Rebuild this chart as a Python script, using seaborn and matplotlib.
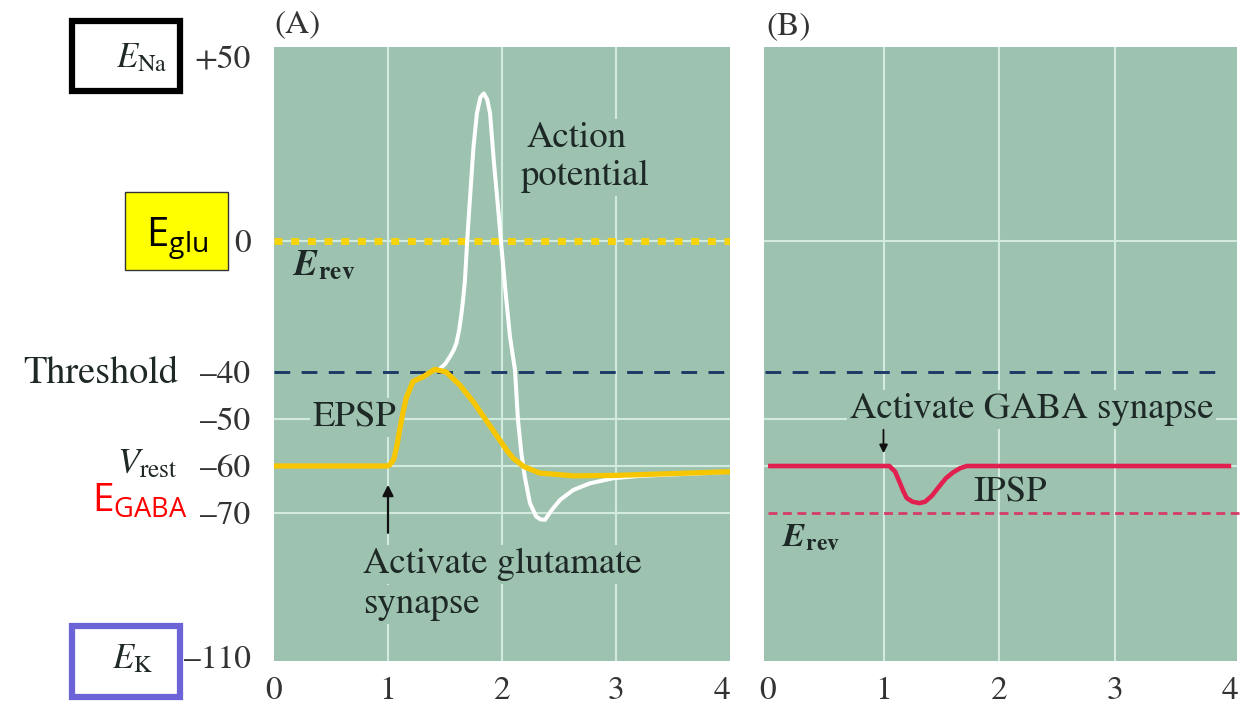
import numpy as np
import matplotlib
matplotlib.use("Agg")
import matplotlib.pyplot as plt
import seaborn as sns
from matplotlib.patches import Rectangle
from matplotlib.transforms import blended_transform_factory
from matplotlib.ticker import NullLocator

# ---------------- data ----------------
EPSP_T = [0.0, 1.0, 1.02, 1.05, 1.08, 1.1, 1.13, 1.16, 1.22, 1.31, 1.41, 1.51, 1.63,
          1.75, 1.87, 1.98, 2.04, 2.1, 2.19, 2.33, 2.63, 3.0, 3.65, 4.0]
EPSP_V = [-60, -60, -59.6, -58.6, -55.5, -52.6, -48.8, -45.5, -42, -41, -39.2, -40, -42.8,
          -46.4, -50.6, -54.5, -56.6, -58.4, -60.1, -61.5, -62.1, -62.0, -61.5, -61.2]

AP_T = [1.44, 1.50, 1.544, 1.575, 1.60, 1.625, 1.645, 1.66, 1.675, 1.695, 1.72, 1.75, 1.78,
        1.81, 1.84, 1.87, 1.895, 1.93, 1.97, 1.995, 2.035, 2.07, 2.114, 2.14, 2.17, 2.20,
        2.245, 2.30, 2.34, 2.377, 2.435, 2.51, 2.625, 2.77, 2.976, 3.21, 3.5, 3.8, 4.0]
AP_V = [-39.5, -37.6, -35.3, -33.4, -31.2, -27, -22, -17.5, -12, 0.3, 12, 25.6, 34.7,
        39, 40.1, 38.5, 34.7, 21.1, 7.5, -1.7, -17, -29.2, -39.4, -50.2, -57.3, -62.3,
        -67.9, -71, -71.8, -71.9, -69.4, -67.2, -65.1, -63.7, -62.6, -62.1, -61.8, -61.5, -61.2]

IPSP_T = [0.0, 1.05, 1.1, 1.14, 1.17, 1.2, 1.25, 1.31, 1.36, 1.42, 1.48, 1.54, 1.6,
          1.66, 1.72, 4.01]
IPSP_V = [-60, -60, -61.2, -63.5, -65.3, -66.8, -67.6, -67.9, -67.6, -66.3, -64.4, -62.6,
          -61.4, -60.5, -60, -60]

E_GLU_REV = 0
THRESHOLD = -40
E_GABA_REV = -70

YTICKS = [50, 0, -40, -50, -60, -70, -110]
YTICK_LABELS = ["+50", "0", "\u201340", "\u201350", "\u201360", "\u201370", "\u2013110"]
XTICKS = [0, 1, 2, 3, 4]
XTICK_LABELS = ["0", "1", "2", "3", "4"]
GRID_Y_A = [0, -50, -60, -70]
GRID_Y_B = [0, -50, -60]
GRID_X = [1, 2, 3]

# ---------------- style ----------------
BG = "#9dc3b0"
GRID = "#d3ebdf"
GOLD = "#f6c700"
GOLD_DOT = "#f7d30c"
RED = "#e2204f"
RED_DASH = "#d63c68"
NAVY = "#1b3a66"
TXT = "#1e2826"

sns.set_theme(style="white", rc={"axes.facecolor": BG, "figure.facecolor": "white"})
plt.rcParams["font.family"] = ["STIXGeneral", "DejaVu Serif"]
plt.rcParams["mathtext.fontset"] = "stix"
plt.rcParams["mathtext.rm"] = "Open Sans"
plt.rcParams["mathtext.it"] = "Open Sans:italic"
plt.rcParams["mathtext.bf"] = "Open Sans:bold"

W, H = 1253, 705
fig = plt.figure(figsize=(W / 100, H / 100), dpi=100)

def fig_rect(l, r, t, b):
    return [l / W, 1 - b / H, (r - l) / W, (b - t) / H]

axA = fig.add_axes(fig_rect(274, 730, 47, 661))
axB = fig.add_axes(fig_rect(764, 1237, 47, 661))

# schematic (piecewise) voltage axis as drawn in the figure
MV_ANCH = np.array([-300, -110, -70, -60, -50, -40, 0, 50, 300], dtype=float)
POS_ANCH = np.array([-1341, -657, -513, -466, -419, -372, -241, -57, 863], dtype=float)
fwd = lambda v: np.interp(v, MV_ANCH, POS_ANCH)
inv = lambda p: np.interp(p, POS_ANCH, MV_ANCH)
YLIM = (float(inv(-661)), float(inv(-47)))

# ---------------- panel A ----------------
sns.lineplot(x=AP_T, y=AP_V, ax=axA, color="white", lw=2.9, estimator=None, sort=False,
             zorder=3, solid_capstyle="round", solid_joinstyle="round")
sns.lineplot(x=EPSP_T, y=EPSP_V, ax=axA, color=GOLD, lw=3.8, estimator=None, sort=False,
             zorder=4, solid_capstyle="round", solid_joinstyle="round")
# ---------------- panel B ----------------
sns.lineplot(x=IPSP_T, y=IPSP_V, ax=axB, color=RED, lw=3.3, estimator=None, sort=False,
             zorder=4, solid_capstyle="butt", solid_joinstyle="round")

for ax, gy, xl in ((axA, GRID_Y_A, (0, 4)), (axB, GRID_Y_B, (-0.035, 4.06))):
    ax.set_yscale("function", functions=(fwd, inv))
    ax.set_ylim(*YLIM)
    ax.set_xlim(*xl)
    for s in ax.spines.values():
        s.set_visible(False)
    for g in gy:
        ax.axhline(g, color=GRID, lw=1.5, zorder=0.8)
    for g in GRID_X:
        ax.axvline(g, color=GRID, lw=1.5, zorder=0.8)
    ax.set_xticks(XTICKS)
    ax.set_xticklabels(XTICK_LABELS)
    ax.yaxis.set_minor_locator(NullLocator())
    ax.xaxis.set_minor_locator(NullLocator())
    ax.tick_params(axis="x", length=0, pad=11, labelsize=24, labelcolor="#333333")
    ax.set_xlabel("")
    ax.set_ylabel("")

axA.set_yticks(YTICKS)
axA.set_yticklabels(YTICK_LABELS)
axA.tick_params(axis="y", length=0, pad=17, labelsize=24, labelcolor="#333333")
axA.get_xticklabels()[-1].set_horizontalalignment("right")
axB.set_yticks(YTICKS)
axB.set_yticklabels([])
axB.tick_params(axis="y", length=0)

# reference lines
axA.axhline(E_GLU_REV, color=GOLD_DOT, lw=5.0, dashes=(1.15, 1.25), dash_capstyle="butt", zorder=2)
axA.axhline(THRESHOLD, color=NAVY, lw=2.1, dashes=(5.4, 3.9), zorder=2)
axB.hlines(THRESHOLD, -0.03, 3.93, color=NAVY, lw=2.1, linestyles=(0, (5.4, 3.9)), zorder=2)
axB.hlines(E_GABA_REV, 0.0, 4.08, color=RED_DASH, lw=2.0, linestyles=(0, (3.2, 2.0)),
           zorder=2, clip_on=False)

box = dict(boxstyle="square,pad=0.08", fc=BG, ec="none")
FS = 26.5
axA.text(2.655, 25.6, "Action", ha="center", va="baseline", fontsize=FS, color=TXT, bbox=box, zorder=1)
axA.text(2.73, 15.2, "potential", ha="center", va="baseline", fontsize=FS, color=TXT, bbox=box, zorder=1)
axA.text(0.17, -10.4, r"$\mathbfit{E}_{\mathbf{rev}}$", ha="left", va="baseline", fontsize=26,
         color=TXT, math_fontfamily="stix")
axA.text(0.34, -51.6, "EPSP", ha="left", va="baseline", fontsize=FS, color=TXT, bbox=box, zorder=1)
axA.text(0.78, -86.7, "Activate glutamate", ha="left", va="baseline", fontsize=FS, color=TXT,
         bbox=box, zorder=1)
axA.text(0.78, -97.8, "synapse", ha="left", va="baseline", fontsize=FS, color=TXT, bbox=box, zorder=1)
axA.annotate("", xy=(1, -64.0), xytext=(1, -75.5),
             arrowprops=dict(arrowstyle="-|>", color="#111111", lw=1.6, mutation_scale=16,
                             shrinkA=0, shrinkB=0), zorder=5)

axB.text(0.71, -49.8, "Activate GABA synapse", ha="left", va="baseline", fontsize=FS, color=TXT,
         bbox=box, zorder=1)
axB.text(1.78, -67.6, "IPSP", ha="left", va="baseline", fontsize=FS, color=TXT)
axB.text(0.12, -79.2, r"$\mathbfit{E}_{\mathbf{rev}}$", ha="left", va="baseline", fontsize=24,
         color=TXT, math_fontfamily="stix")
axB.annotate("", xy=(1, -57.3), xytext=(1, -52.3),
             arrowprops=dict(arrowstyle="-|>", color="#111111", lw=1.4, mutation_scale=12,
                             shrinkA=0, shrinkB=0), zorder=5)

axA.text(0.0, 1.024, "(A)", transform=axA.transAxes, ha="left", va="baseline", fontsize=24, color="#333333")
axB.text(0.006, 1.02, "(B)", transform=axB.transAxes, ha="left", va="baseline", fontsize=24, color="#333333")

# ---------------- left-side labels ----------------
bt = blended_transform_factory(fig.transFigure, axA.transData)
fig.text(167 / W, 47.3, r"$E_{\mathrm{Na}}$", transform=bt, ha="right", va="baseline",
         fontsize=25, color=TXT, math_fontfamily="stix")
fig.text(178 / W, -42.3, "Threshold", transform=bt, ha="right", va="baseline", fontsize=27.5, color=TXT)
fig.text(178 / W, -61.5, r"$V_{\mathrm{rest}}$", transform=bt, ha="right", va="baseline",
         fontsize=26, color=TXT, math_fontfamily="stix")
fig.text(188 / W, -69.8, r"$\mathrm{E}_{\mathrm{GABA}}$", transform=bt, ha="right", va="baseline",
         fontsize=28, color="#ff0000", math_fontfamily="custom")
fig.text(177 / W, -1.8, r"$\mathrm{E}_{\mathrm{glu}}$", transform=bt, ha="center", va="baseline",
         fontsize=29, color="black", math_fontfamily="custom", zorder=6)
fig.text(153 / W, -113, r"$E_{\mathrm{K}}$", transform=bt, ha="right", va="baseline",
         fontsize=25, color=TXT, math_fontfamily="stix")

fig.add_artist(Rectangle((72 / W, 1 - 91 / H), 108 / W, 70 / H, transform=fig.transFigure,
                         fill=False, ec="black", lw=4.5))
fig.add_artist(Rectangle((125 / W, 1 - 270 / H), 103 / W, 78 / H, transform=fig.transFigure,
                         fc="#ffff00", ec="#333333", lw=1.0, zorder=5))
fig.add_artist(Rectangle((72 / W, 1 - 697 / H), 108 / W, 71 / H, transform=fig.transFigure,
                         fill=False, ec="#6b63d6", lw=4.5))

fig.savefig("out.png", dpi=100)
